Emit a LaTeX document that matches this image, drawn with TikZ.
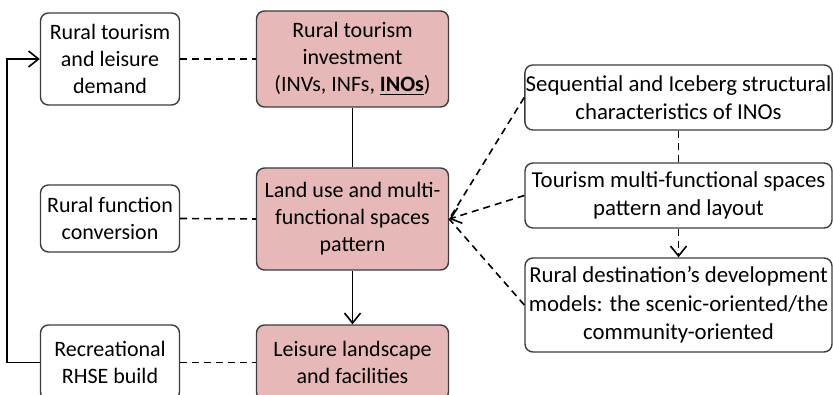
\documentclass[tikz,border=0pt]{standalone}
\usepackage{fontspec}
\setmainfont{Carlito}
\usetikzlibrary{arrows.meta,positioning}
\definecolor{boxpink}{RGB}{230,185,184}
\definecolor{boxline}{RGB}{60,60,60}
\tikzset{
  plain/.style={draw=boxline, rounded corners=4pt, align=center, inner sep=1pt, line width=0.7pt, font=\fontsize{11}{13.5}\selectfont},
  whitebox/.style={plain, fill=white, minimum width=69.5pt},
  pinkbox/.style={plain, fill=boxpink, minimum width=96pt},
  sidebox/.style={plain, fill=white, inner sep=0.4pt, minimum width=153.5pt, font=\fontsize{11.4}{14.2}\selectfont},
  dashes/.style={dash pattern=on 3.5pt off 2.5pt, line width=0.8pt},
  tip/.style={-{Straight Barb[length=5pt,width=8pt]}}
}

\begin{document}
\begin{tikzpicture}[x=0.5pt, y=-0.5pt, line width=0.8pt]
\useasboundingbox (0,0) rectangle (833,395);
% left column
\node[whitebox, minimum height=46pt] (dem) at (110, 59) {Rural tourism\\and leisure\\demand};
\node[whitebox, minimum height=33.5pt] (conv) at (110, 218.5) {Rural function\\conversion};
\node[whitebox, minimum height=37.5pt] (rhse) at (110, 362.5) {Recreational\\RHSE build};
% middle column
\node[pinkbox, minimum height=48pt] (inv) at (352.5, 59) {Rural tourism\\investment\\(INVs, INFs, \textbf{\underline{INOs}})};
\node[pinkbox, minimum height=51pt] (land) at (352.5, 219) {Land use and multi-\\functional spaces\\pattern};
\node[pinkbox, minimum height=37.5pt] (leis) at (352.5, 362.5) {Leisure landscape\\and facilities};
% right column
\node[sidebox, minimum height=32.5pt] (seq) at (678.5, 97.5) {Sequential and Iceberg structural\\characteristics of INOs};
\node[sidebox, minimum height=32.5pt] (tour) at (678.5, 195.5) {Tourism multi-functional spaces\\pattern and layout};
\node[sidebox, minimum height=47pt] (dest) at (678.5, 305) {Rural destination’s development\\models: the scenic-oriented/the\\community-oriented};

\coordinate (fb) at (7, 0);
\draw (inv) -- (land);
\draw[tip] (land) -- (leis);
\draw[tip] (rhse.west) -- (rhse.west -| fb) |- (dem.west);

\draw[dashes] (dem.east) -- (inv.west);
\draw[dashes] (conv.east) -- (land.west);
\draw[dashes] (rhse.east) -- (leis.west);

\draw[dashes] (seq.west) -- (land.east);
\draw[dashes, tip] (tour.west) -- (land.east);
\draw[dashes] (dest.west) -- (land.east);
\draw[dashes] (seq) -- (tour);
\draw[dashes, tip] (tour) -- (dest);
\end{tikzpicture}
\end{document}
